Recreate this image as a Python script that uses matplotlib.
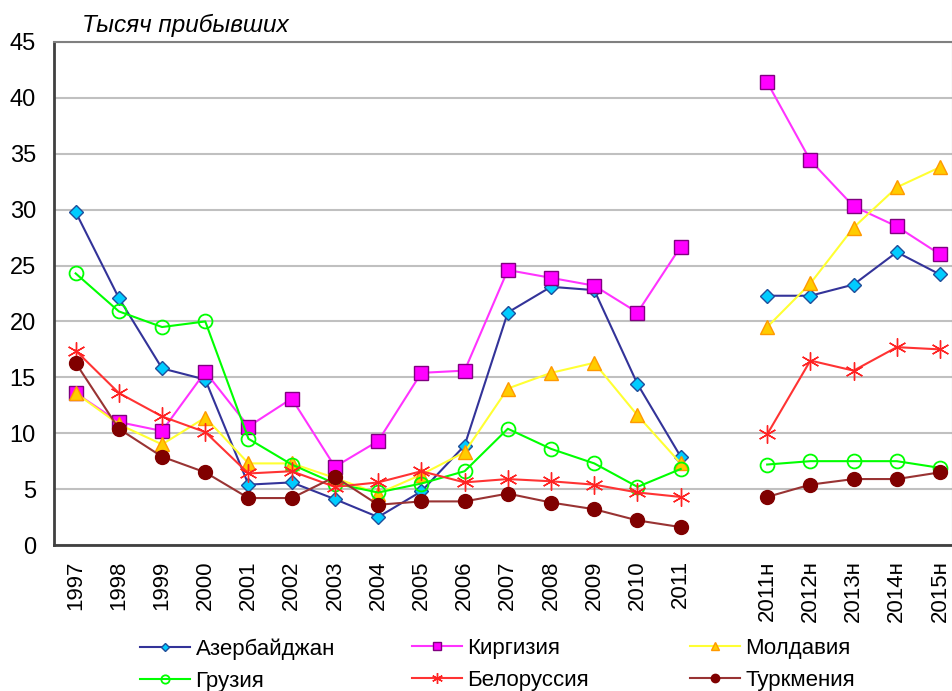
import numpy as np
import matplotlib
matplotlib.use("Agg")
import matplotlib.pyplot as plt
from matplotlib.lines import Line2D

plt.rcParams['font.family'] = ['Liberation Sans', 'DejaVu Sans']

categories = ['1997', '1998', '1999', '2000', '2001', '2002', '2003', '2004',
              '2005', '2006', '2007', '2008', '2009', '2010', '2011', '',
              '2011н', '2012н', '2013н', '2014н', '2015н']

azerbaijan = [29.8, 22.1, 15.8, 14.8, 5.4, 5.6, 4.1, 2.5, 4.8, 8.9, 20.8, 23.1, 22.8, 14.4, 7.9,
              None, 22.3, 22.3, 23.3, 26.2, 24.2]
kirgizia = [13.6, 11.0, 10.2, 15.5, 10.6, 13.1, 7.0, 9.3, 15.4, 15.6, 24.6, 23.9, 23.2, 20.8, 26.7,
            None, 41.4, 34.4, 30.3, 28.5, 26.0]
moldavia = [13.6, 10.8, 9.0, 11.4, 7.3, 7.3, 6.0, 4.6, 6.3, 8.3, 14.0, 15.4, 16.3, 11.6, 7.3,
            None, 19.5, 23.4, 28.4, 32.0, 33.8]
georgia = [24.3, 20.9, 19.5, 20.0, 9.5, 7.2, 5.5, 4.7, 5.5, 6.6, 10.4, 8.6, 7.3, 5.2, 6.8,
           None, 7.2, 7.5, 7.5, 7.5, 6.9]
belorussia = [17.4, 13.6, 11.5, 10.1, 6.4, 6.6, 5.2, 5.6, 6.6, 5.6, 5.9, 5.7, 5.4, 4.7, 4.3,
              None, 9.9, 16.5, 15.6, 17.7, 17.5]
turkmenia = [16.3, 10.4, 7.9, 6.5, 4.2, 4.2, 6.1, 3.6, 3.9, 3.9, 4.6, 3.8, 3.2, 2.2, 1.6,
             None, 4.3, 5.4, 5.9, 5.9, 6.5]

series_names = ['Азербайджан', 'Киргизия', 'Молдавия', 'Грузия', 'Белоруссия', 'Туркмения']
series_values = [azerbaijan, kirgizia, moldavia, georgia, belorussia, turkmenia]

styles = [
    dict(color='#333399', marker='D', ms=7, mfc='#00ccff', mec='#1f4e9a', mew=1.0),
    dict(color='#ff33ff', marker='s', ms=10, mfc='#ff00ff', mec='#800080', mew=1.0),
    dict(color='#ffff33', marker='^', ms=10, mfc='#ffcc00', mec='#ff9900', mew=1.0),
    dict(color='#00ff00', marker='o', ms=10, mfc='none', mec='#00ff00', mew=1.3),
    dict(color='#ff3333', marker=(6, 2, 0), ms=13, mfc='#ff0000', mec='#ff2222', mew=1.0),
    dict(color='#993333', marker='o', ms=10, mfc='#800000', mec='#800000', mew=1.0),
]

fig = plt.figure(figsize=(9.53, 6.91), dpi=100)
ax = fig.add_axes([54 / 953, 1 - 545 / 691, 1 - 54 / 953, (545 - 42) / 691])

x = np.arange(len(categories))
for name, vals, st in zip(series_names, series_values, styles):
    y = np.array([np.nan if v is None else v for v in vals], dtype=float)
    ax.plot(x, y, lw=1.5, label=name, **st)

ax.set_xlim(-0.5, 20.3)
ax.set_ylim(0, 45)
ax.set_yticks(np.arange(0, 46, 5))
ax.set_xticks(x)
ax.set_xticklabels(categories, rotation=90, fontsize=16)
ax.tick_params(axis='y', length=0, pad=13, labelsize=17)
ax.tick_params(axis='x', length=0, pad=11)
ax.grid(axis='y', color='#c0c0c0', lw=1.5)
ax.set_axisbelow(True)
for s in ['left', 'bottom']:
    ax.spines[s].set_color('#404040')
    ax.spines[s].set_linewidth(2)
for s in ['top', 'right']:
    ax.spines[s].set_color('#808080')
    ax.spines[s].set_linewidth(1.5)

fig.text(82 / 953, 1 - 25 / 691, 'Тысяч прибывших', fontsize=17.5, style='italic',
         va='center', ha='left')

# legend: three columns, two rows each
col_x = [140 / 953, 412 / 953, 690 / 953]
col_groups = [[0, 3], [1, 4], [2, 5]]
for cx, grp in zip(col_x, col_groups):
    hs = []
    for i in grp:
        st = dict(styles[i])
        st['ms'] = st['ms'] * 0.6
        hs.append(Line2D([], [], lw=1.5, **st))
    fig.legend(hs, [series_names[i] for i in grp], loc='upper left',
               bbox_to_anchor=(cx, 1 - 638 / 691), frameon=False,
               fontsize=16, handlelength=2.25, handletextpad=0.25,
               labelspacing=0.5, borderaxespad=0, borderpad=0)

fig.savefig('out.png', dpi=100)
